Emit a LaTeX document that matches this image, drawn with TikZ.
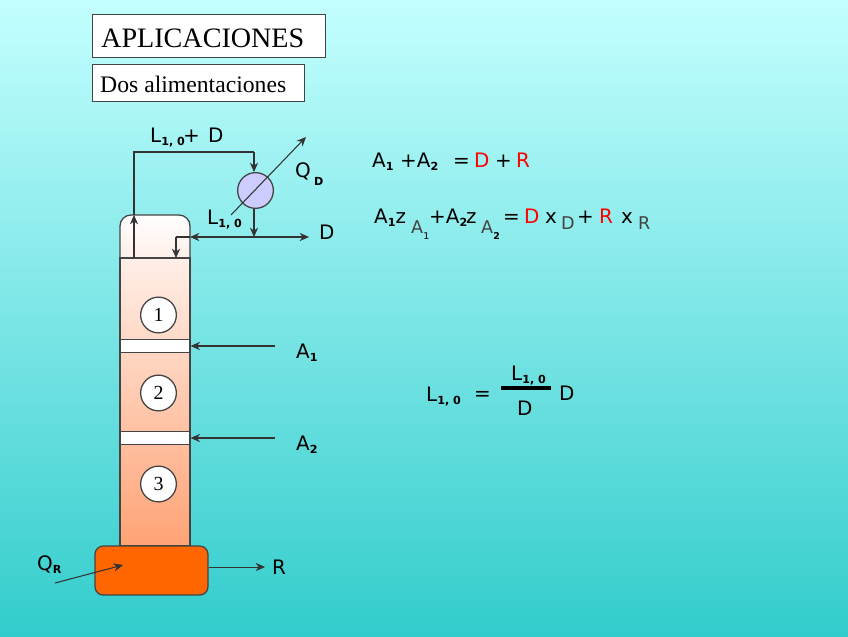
\documentclass[tikz,border=0pt]{standalone}
\usepackage{fontspec}
\setmainfont{DejaVu Sans}
\newfontfamily\serifrm{Liberation Serif}
\usetikzlibrary{arrows.meta, positioning}
\definecolor{bgtop}{HTML}{C4FFFF}
\definecolor{bgbot}{HTML}{33CCCC}
\definecolor{lineg}{HTML}{444444}
\definecolor{coltop}{HTML}{FFEFE8}
\definecolor{colbot}{HTML}{FFA375}
\newcommand{\sbb}[1]{\raisebox{-0.3ex}{\fontsize{9.5}{9.5}\selectfont\bfseries #1}}
\newcommand{\sbt}[1]{{\fontsize{15}{15}\selectfont\color{lineg}#1}}
\newcommand{\Lten}{L\sbb{1, 0}}

\begin{document}
\begin{tikzpicture}[x=0.03cm, y=-0.03cm, every node/.style={font=\fontsize{17}{17}\selectfont, inner sep=0pt},
    txt/.style={anchor=base west},
    titlebox/.style={rectangle, draw=lineg, line width=1.2pt, fill=white, anchor=north west, font=\serifrm, inner sep=0pt},
    stagenum/.style={circle, draw=lineg, line width=1.1pt, fill=white, minimum size=30.5pt, font=\serifrm\fontsize{17}{17}\selectfont},
    band/.style={rectangle, draw=lineg, line width=1.1pt, fill=white, minimum width=59.7pt, minimum height=11.5pt},
    flow/.style={draw=black!80, line width=0.9pt, -{Stealth[length=8pt,width=7pt]}},
    pipe/.style={draw=black!80, line width=0.9pt}]
    \shade[top color=bgtop, bottom color=bgbot] (0,0) rectangle (848,636);
    \useasboundingbox (0,0) rectangle (848,636);

    % titles
    \node[titlebox, minimum width=198.8pt, minimum height=36.7pt] (title) at (92,14) {};
    \node[txt, font=\serifrm\fontsize{24}{24}\selectfont] (titletxt) at (101,47) {APLICACIONES};
    \node[titlebox, minimum width=181pt, minimum height=31.6pt] (subtitle) at (92,64) {};
    \node[txt, font=\serifrm\fontsize{20.2}{20.2}\selectfont] (subtxt) at (100,92) {Dos alimentaciones};

    % column
    \draw[lineg, line width=1.1pt, top color=white, bottom color=coltop] (120,258) -- (120,226) arc (180:270:11) -- (179,215) arc (270:360:11) -- (190,258) -- cycle;
    \draw[lineg, line width=1.1pt, top color=coltop, bottom color=colbot] (120,258) rectangle (190,546);
    \node[band] (feed1) at (155,346) {};
    \node[band] (feed2) at (155,438) {};
    \node[stagenum] (st1) at (158.5,315) {1};
    \node[stagenum] (st2) at (158.5,393) {2};
    \node[stagenum] (st3) at (158.5,484) {3};
    \node[rectangle, draw=lineg, line width=1.1pt, fill={rgb,255:red,255;green,102;blue,0}, rounded corners=7pt, minimum width=96.4pt, minimum height=41.8pt] (reb) at (151.5,570.5) {};

    % condenser
    \node[circle, draw=lineg, line width=1.1pt, fill={rgb,255:red,204;green,204;blue,255}, minimum size=30.5pt] (cond) at (255.5,190.5) {};
    \coordinate (qdin) at (231,215);
    \coordinate (qdout) at (306,137);
    \draw[flow] (qdin) -- (qdout);

    \coordinate (vapbot) at (134,258);
    \coordinate (vapmid) at (134,215);
    \coordinate (vaptop) at (134,152);
    \coordinate (condtop) at (254,152);
    \coordinate (split) at (254,237);
    \coordinate (dout) at (309,237);
    \coordinate (reflux) at (176,237);
    \coordinate (refluxin) at (190,237);
    \coordinate (refluxend) at (176,258);
    \draw[flow] (vapbot) -- (vapmid);
    \draw[pipe] (vapmid) -- (vaptop) -- (condtop);
    \draw[flow] (condtop) -- (cond.north -| condtop);
    \draw[flow] (cond.south -| split) -- (split);
    \draw[flow] (split) -- (dout);
    \draw[flow] (split) -- (refluxin);
    \draw[pipe] (refluxin) -- (reflux);
    \draw[flow] (reflux) -- (refluxend);

    % feeds and bottom
    \coordinate (a1src) at (275,346);
    \coordinate (a2src) at (275,438);
    \draw[flow] (a1src) -- (feed1.east);
    \draw[flow] (a2src) -- (feed2.east);
    \coordinate (rout) at (265,567);
    \draw[flow, line width=0.5pt] (reb.east |- rout) -- (rout);
    \coordinate (qrin) at (55,583);
    \coordinate (qrout) at (123,565);
    \draw[flow] (qrin) -- (qrout);

    % stream labels
    \node[txt] (lbltop) at (150,142) {\Lten};
    \node[txt] (lblplus) at (183,142) {+};
    \node[txt] (lbldtop) at (208,142) {D};
    \node[txt] (lblqd) at (295,177) {Q};
    \node[txt] (lblqds) at (314,182) {\sbb{D}};
    \node[txt] (lblref) at (207,224) {\Lten};
    \node[txt] (lbld) at (319,239) {D};
    \node[txt] (lbla1) at (296,358) {A\sbb{1}};
    \node[txt] (lbla2) at (296,450) {A\sbb{2}};
    \node[txt] (lblr) at (272,574) {R};
    \node[txt] (lblqr) at (37,570) {Q\sbb{R}};

    % balances
    \node[txt] (eqa) at (372,167) {A\sbb{1}};
    \node[txt] (eqb) at (400,167) {+A\sbb{2}};
    \node[txt] (eqc) at (453,167) {=};
    \node[txt, text=red] (eqd) at (474,167) {D};
    \node[txt] (eqe) at (495,167) {+};
    \node[txt, text=red] (eqf) at (516,167) {R};

    \node[txt] (baa) at (374,223) {A\sbb{1}z};
    \node[txt] (bab) at (411,233) {\sbt{A}\raisebox{-0.6ex}{\fontsize{8}{8}\selectfont 1}};
    \node[txt] (bac) at (429,223) {+A\sbb{2}\hspace{-1pt}z};
    \node[txt] (bad) at (481,233) {\sbt{A}\raisebox{-0.6ex}{\fontsize{8}{8}\selectfont\bfseries 2}};
    \node[txt] (bae) at (503,223) {=};
    \node[txt, text=red] (baf) at (524,223) {D};
    \node[txt] (bag) at (545,223) {x};
    \node[txt] (bah) at (561,229) {\sbt{D}};
    \node[txt] (bai) at (577,223) {+};
    \node[txt, text=red] (baj) at (599,223) {R};
    \node[txt] (bak) at (621,223) {x};
    \node[txt] (bal) at (638,229) {\sbt{R}};

    % reflux ratio
    \node[txt] (rra) at (426,401) {\Lten};
    \node[txt] (rrb) at (474,400) {=};
    \node[txt] (rrc) at (511,380) {\Lten};
    \coordinate (fracl) at (501,388);
    \coordinate (fracr) at (551,388);
    \draw[line width=2.6pt, black] (fracl) -- (fracr);
    \node[txt] (rrd) at (517,415) {D};
    \node[txt] (rre) at (559,400) {D};
\end{tikzpicture}
\end{document}
